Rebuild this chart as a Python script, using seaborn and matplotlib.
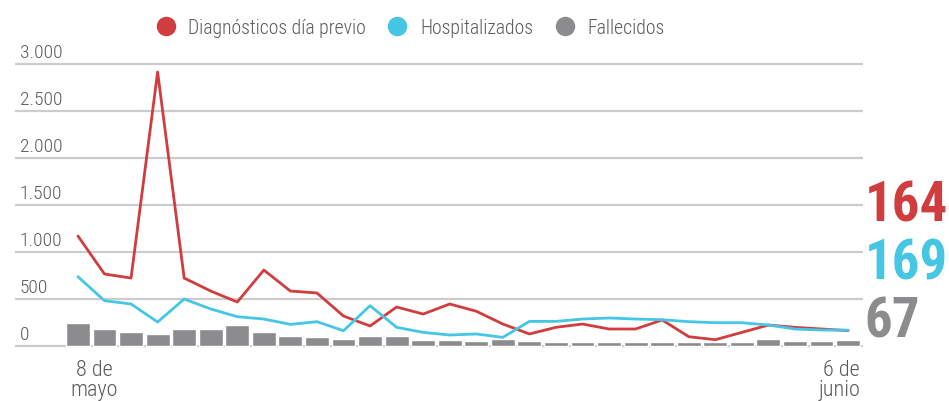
import matplotlib
matplotlib.use('Agg')
import matplotlib.pyplot as plt
import matplotlib.transforms as mtransforms
import seaborn as sns
import pandas as pd
from matplotlib.lines import Line2D

# data (8 May - 6 June)
dias = list(range(30))
diagnosticos = [1170, 766, 723, 2915, 723, 585, 468, 808, 585, 564,
                319, 213, 415, 340, 447, 370, 234, 128, 199, 234,
                181, 181, 277, 99, 67, 145, 223, 199, 181, 164]
hospitalizados = [737, 482, 447, 255, 500, 394, 312, 287, 230, 259,
                  163, 429, 199, 145, 117, 128, 92, 262, 262, 287,
                  298, 287, 280, 259, 248, 248, 223, 181, 170, 169]
fallecidos = [240, 184, 145, 131, 177, 184, 227, 145, 102, 92,
              70, 102, 102, 60, 60, 53, 70, 53, 38, 38,
              38, 38, 38, 38, 38, 38, 70, 53, 53, 67]
xtick_labels = ['8 de\nmayo', '6 de\njunio']
ytick_vals = [0, 500, 1000, 1500, 2000, 2500, 3000]
ytick_labels = ['0', '500', '1.000', '1.500', '2.000', '2.500', '3.000']
ultimos = ['164', '169', '67']

ROJO = '#d13c3f'
AZUL = '#45c6e4'
GRIS = '#8c8c8e'
TEXTO = '#5a5a5a'

df = pd.DataFrame({'dia': dias, 'diag': diagnosticos,
                   'hosp': hospitalizados, 'fall': fallecidos})

sns.set_theme(style='white')
plt.rcParams['font.family'] = ['Roboto Condensed', 'DejaVu Sans']
plt.rcParams['font.weight'] = 300

fig = plt.figure(figsize=(9.49, 4.02), dpi=100)
ax = fig.add_axes([15 / 949, 0.1321, (862.7 - 15) / 949, 0.7132])

ax.bar(df['dia'], df['fall'], width=0.9, color=GRIS, zorder=2)
sns.lineplot(data=df, x='dia', y='diag', color=ROJO, lw=2, ax=ax, zorder=3,
             solid_joinstyle='round')
sns.lineplot(data=df, x='dia', y='hosp', color=AZUL, lw=2, ax=ax, zorder=3,
             solid_joinstyle='round')

ax.set_xlim(-2.37, 29.55)
ax.set_ylim(-20, 3030)
ax.set_yticks(ytick_vals)
ax.set_yticklabels([])
ax.tick_params(axis='y', length=0)
ax.yaxis.grid(True, color='#cccccc', lw=1.6, zorder=1)
ax.xaxis.grid(False)
for s in ax.spines.values():
    s.set_visible(False)
ax.set_xlabel('')
ax.set_ylabel('')

for v, lbl in zip(ytick_vals, ytick_labels):
    ax.annotate(lbl, (0, v), xycoords=ax.get_yaxis_transform(),
                xytext=(3.5, 2), textcoords='offset points',
                ha='left', va='bottom', fontsize=14, color=TEXTO,
                fontweight=300)

ax.set_xticks([dias[0], dias[-1]])
ax.set_xticklabels(xtick_labels, fontsize=16, color=TEXTO, linespacing=0.95,
                   fontweight=300)
ax.tick_params(axis='x', length=0, pad=8)
# first label starts a little left of its tick, last one ends at the grid edge
tl = ax.get_xticklabels()
tl[0].set_horizontalalignment('center')
tl[0].set_transform(tl[0].get_transform() +
                    mtransforms.ScaledTranslation(16 / 100, 0, fig.dpi_scale_trans))
tl[1].set_horizontalalignment('right')
tl[1].set_transform(tl[1].get_transform() +
                    mtransforms.ScaledTranslation(12 / 100, 0, fig.dpi_scale_trans))

# last values on the right
for txt, col, yv in zip(ultimos, [ROJO, AZUL, GRIS], [1330, 713, 96]):
    ax.annotate(txt, (1, yv), xycoords=ax.get_yaxis_transform(),
                xytext=(1.5, 0), textcoords='offset points',
                ha='left', va='baseline', fontsize=39.5, fontweight='bold',
                color=col)

handles = [Line2D([], [], marker='o', ls='', markersize=13, color=c)
           for c in [ROJO, AZUL, GRIS]]
leg = fig.legend(handles, ['Diagnósticos día previo', 'Hospitalizados', 'Fallecidos'],
                 loc='center', bbox_to_anchor=(0.427, 0.93), ncol=3, frameon=False,
                 handletextpad=0.15, columnspacing=0.6,
                 labelcolor=TEXTO, prop={'weight': 300, 'size': 14.2})

fig.savefig('out.png', dpi=100)
